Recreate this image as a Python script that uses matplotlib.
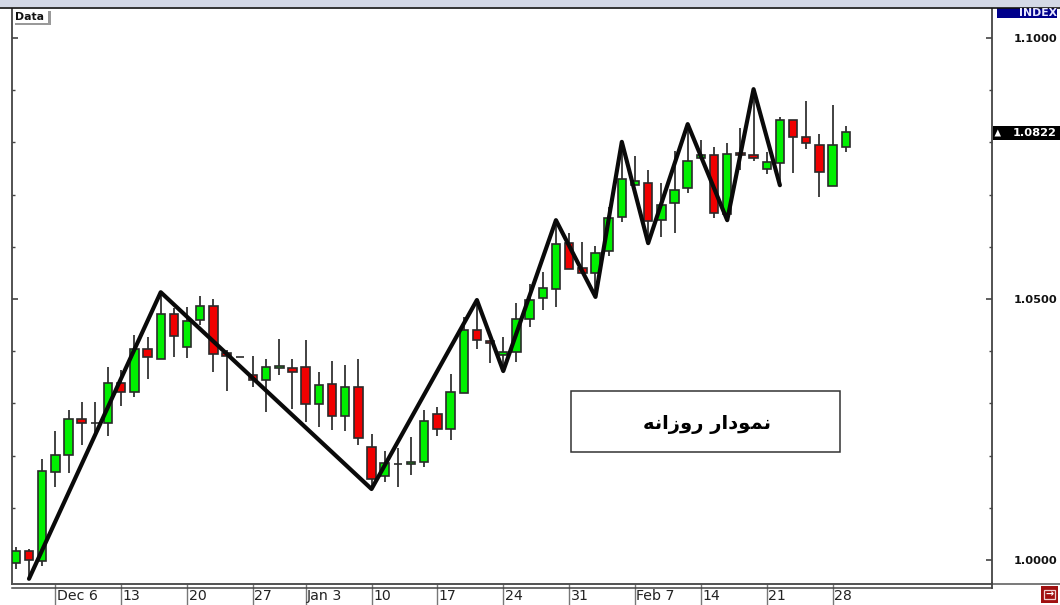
import matplotlib
matplotlib.use('Agg')
import matplotlib.pyplot as plt
from matplotlib.patches import Rectangle, Polygon
from matplotlib.transforms import ScaledTranslation

# daily candles
opens = [0.9994, 1.0018, 0.9998, 1.0168, 1.0201, 1.0271, 1.0263, 1.0262, 1.0339, 1.0322, 1.0404, 1.0385, 1.0471, 1.0408,
         1.0459, 1.0487, 1.0397, 1.0388, 1.0354, 1.0345, 1.0368, 1.0367, 1.0370, 1.0299, 1.0337, 1.0275, 1.0332, 1.0216,
         1.0160, 1.0183, 1.0183, 1.0188, 1.0279, 1.0251, 1.0319, 1.0440, 1.0420, 1.0392, 1.0398, 1.0461, 1.0502, 1.0520,
         1.0607, 1.0560, 1.0550, 1.0591, 1.0657, 1.0718, 1.0722, 1.0651, 1.0683, 1.0712, 1.0771, 1.0775, 1.0662, 1.0779,
         1.0775, 1.0750, 1.0760, 1.0843, 1.0810, 1.0795, 1.0717, 1.0792]
highs = [1.0025, 1.0022, 1.0193, 1.0247, 1.0287, 1.0303, 1.0303, 1.0370, 1.0364, 1.0431, 1.0427, 1.0511, 1.0483, 1.0485,
         1.0506, 1.0500, 1.0402, 1.0388, 1.0391, 1.0386, 1.0424, 1.0386, 1.0421, 1.0361, 1.0381, 1.0374, 1.0386, 1.0241,
         1.0209, 1.0214, 1.0236, 1.0287, 1.0293, 1.0356, 1.0466, 1.0498, 1.0421, 1.0427, 1.0493, 1.0528, 1.0552, 1.0651,
         1.0626, 1.0610, 1.0602, 1.0677, 1.0801, 1.0774, 1.0748, 1.0723, 1.0784, 1.0837, 1.0805, 1.0791, 1.0799, 1.0827,
         1.0900, 1.0782, 1.0849, 1.0843, 1.0880, 1.0816, 1.0872, 1.0831]
lows = [0.9982, 0.9962, 0.9989, 1.0139, 1.0167, 1.0220, 1.0236, 1.0238, 1.0295, 1.0313, 1.0346, 1.0385, 1.0389, 1.0387,
        1.0450, 1.0361, 1.0324, 1.0388, 1.0331, 1.0283, 1.0354, 1.0289, 1.0265, 1.0255, 1.0250, 1.0248, 1.0220, 1.0134,
        1.0150, 1.0139, 1.0162, 1.0179, 1.0238, 1.0230, 1.0319, 1.0405, 1.0377, 1.0364, 1.0379, 1.0447, 1.0478, 1.0485,
        1.0557, 1.0550, 1.0511, 1.0582, 1.0647, 1.0718, 1.0607, 1.0619, 1.0627, 1.0704, 1.0771, 1.0655, 1.0651, 1.0747,
        1.0765, 1.0739, 1.0718, 1.0742, 1.0787, 1.0696, 1.0717, 1.0782]
closes = [1.0018, 1.0000, 1.0170, 1.0202, 1.0271, 1.0263, 1.0263, 1.0340, 1.0322, 1.0404, 1.0388, 1.0471, 1.0429, 1.0458,
          1.0487, 1.0395, 1.0391, 1.0388, 1.0345, 1.0370, 1.0372, 1.0360, 1.0299, 1.0335, 1.0276, 1.0332, 1.0234, 1.0155,
          1.0185, 1.0183, 1.0188, 1.0266, 1.0251, 1.0322, 1.0441, 1.0421, 1.0415, 1.0398, 1.0461, 1.0499, 1.0521, 1.0605,
          1.0557, 1.0550, 1.0589, 1.0656, 1.0729, 1.0726, 1.0649, 1.0681, 1.0709, 1.0764, 1.0775, 1.0664, 1.0777, 1.0775,
          1.0771, 1.0762, 1.0843, 1.0811, 1.0798, 1.0743, 1.0795, 1.0820]

# zigzag drawn over the candles
zig_idx = [1, 11, 27, 35, 37, 41, 44, 46, 48, 51, 54, 56, 58]
zig_val = [0.9964, 1.0513, 1.0136, 1.0498, 1.0362, 1.0651, 1.0504, 1.0801, 1.0607, 1.0835, 1.0651, 1.0902, 1.0718]

date_idx = [3, 8, 13, 18, 22, 27, 32, 37, 42, 47, 52, 57, 62]
date_labels = ['Dec 6', '13', '20', '27', 'Jan 3', '10', '17', '24', '31', 'Feb 7', '14', '21', '28']
price_ticks = [1.00, 1.05, 1.10]
price_minor = [1.01, 1.02, 1.03, 1.04, 1.06, 1.07, 1.08, 1.09]
last_price = 1.0822
# presentation forms in logical order, matplotlib does no arabic shaping
title_fa = '\ufee7\ufee4\ufeee\ufea9\ufe8d\ufead \ufead\ufeed\ufeaf\ufe8d\ufee7\ufeea'

W, H = 1060, 605
fig = plt.figure(figsize=(W / 100, H / 100), dpi=100, facecolor='white')


def px(x, y):
    return x / W, 1 - y / H


# axes from pixel edges
left, right, top, bottom = 12, 992, 8.5, 583.5
ax = fig.add_axes([left / W, 1 - bottom / H, (right - left) / W, (bottom - top) / H])
ax.set_xlim(-0.29, 74.1)
ax.set_ylim(1 - (bottom - 560) / 5220, 1 + (560 - top) / 5220)

for i in range(len(opens)):
    up = closes[i] >= opens[i]
    col = '#00f000' if up else '#f00000'
    ax.vlines(i, lows[i], highs[i], color='#2a2a2a', lw=1.25, zorder=2)
    lo = min(opens[i], closes[i])
    ax.bar(i, abs(closes[i] - opens[i]), bottom=lo, width=0.64, color=col, edgecolor='#2a2a2a', lw=1.2, zorder=3)

ax.plot(zig_idx, zig_val, color='#0a0a0a', lw=3.0, solid_joinstyle='round', solid_capstyle='round', zorder=5)

for s in ax.spines.values():
    s.set_color('#444444')
    s.set_linewidth(1.3)
ax.spines['top'].set_visible(False)

ax.set_yticks(price_ticks)
ax.set_yticks(price_minor, minor=True)
ax.set_yticklabels(['%.4f' % v for v in price_ticks])
ax.tick_params(axis='y', which='major', direction='in', left=True, right=True, labelleft=False, labelright=True,
               length=4.5, width=1.2, color='#444444', pad=15.5, labelsize=8.2, labelcolor='#111111')
ax.tick_params(axis='y', which='minor', direction='in', left=True, right=True, length=2.5, width=1.0, color='#444444')
for lab in ax.get_yticklabels():
    lab.set_fontweight('bold')

ax.set_xticks(date_idx)
ax.set_xticklabels(date_labels)
ax.tick_params(axis='x', direction='out', length=16, width=1.0, color='#777777', pad=-12, labelsize=10.2,
               labelcolor='#222222')
offset = ScaledTranslation(1.5 / 100, 0, fig.dpi_scale_trans)
for lab in ax.get_xticklabels():
    lab.set_ha('left')
    lab.set_transform(lab.get_transform() + offset)

# text box in the lower right of the chart
ax_box = Rectangle(px(571, 452), 269 / W, 61 / H, transform=fig.transFigure, fc='white', ec='#333333', lw=1.1, zorder=6)
fig.add_artist(ax_box)
fig.text(*px(707, 424), title_fa[::-1], ha='center', va='center', fontsize=14, fontweight='bold', color='black',
         family='DejaVu Sans', zorder=7)

# terminal furniture around the plot
fig.add_artist(Rectangle(px(0, 7), 1, 7 / H, transform=fig.transFigure, fc='#d3d8e6', ec='none'))
fig.add_artist(plt.Line2D([0, 1], [1 - 7.8 / H] * 2, color='#111111', lw=1.2))
fig.add_artist(plt.Line2D([12 / W, 1], [1 - 583.5 / H] * 2, color='#555555', lw=1.1))
fig.add_artist(plt.Line2D([12 / W, 992 / W], [1 - 587.5 / H] * 2, color='#444444', lw=1.1))
fig.add_artist(plt.Line2D([992 / W, 992 / W], [1 - 583 / H, 1 - 588 / H], color='#444444', lw=1.3))

fig.add_artist(Rectangle(px(997, 17.5), 60 / W, 10 / H, transform=fig.transFigure, fc='#00008b', ec='none'))
fig.text(*px(1057, 12.5), 'INDEX', ha='right', va='center', fontsize=7.8, fontweight='bold', color='#e8e8ff')

fig.add_artist(Rectangle(px(993, 140), 67 / W, 14 / H, transform=fig.transFigure, fc='black', ec='none'))
fig.text(*px(1057, 133), '%.4f' % last_price, ha='right', va='center', fontsize=8.2, fontweight='bold', color='white')
fig.add_artist(Polygon([px(994.5, 136.5), px(1001, 136.5), px(997.8, 129.5)], transform=fig.transFigure, fc='white',
                       ec='none'))

# Data label with its shadow
fig.add_artist(Rectangle(px(15, 25), 36 / W, 14 / H, transform=fig.transFigure, fc='#999999', ec='none', zorder=6))
fig.add_artist(Rectangle(px(13, 23), 35 / W, 13 / H, transform=fig.transFigure, fc='white', ec='none', zorder=7))
fig.text(*px(14.5, 16.5), 'Data', ha='left', va='center', fontsize=7.8, fontweight='bold', color='#111111', zorder=8)

# exit icon, bottom right
fig.add_artist(Rectangle(px(1041, 603), 17 / W, 17 / H, transform=fig.transFigure, fc='#a01010', ec='none'))
fig.add_artist(Rectangle(px(1044, 599), 11 / W, 9 / H, transform=fig.transFigure, fc='none', ec='#f0d0d0', lw=0.9))
fig.text(*px(1049.5, 594.5), '\u2192', ha='center', va='center', fontsize=7, color='white', fontweight='bold')

fig.savefig('out.png', dpi=100)
